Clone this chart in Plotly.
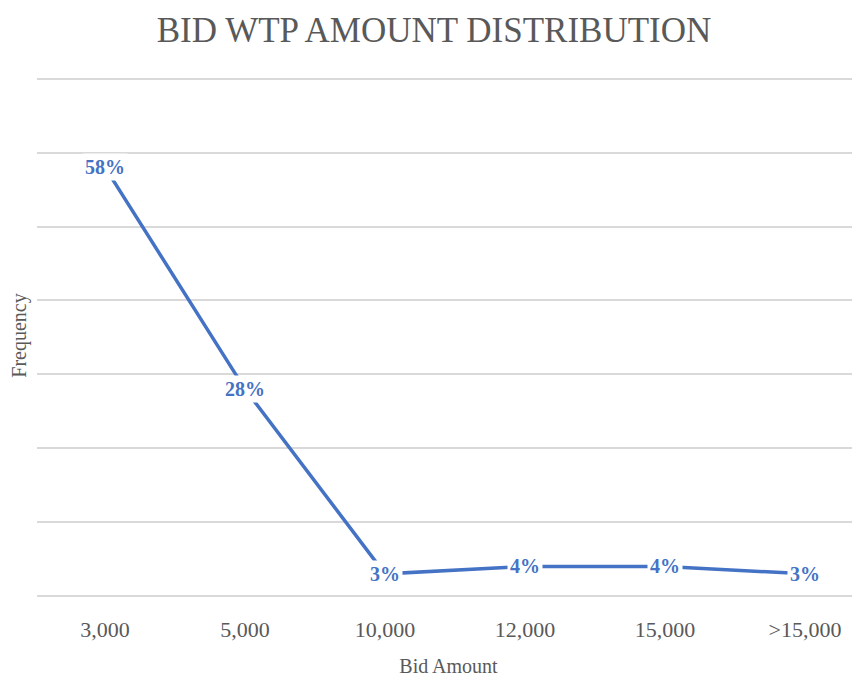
import plotly.graph_objects as go

categories = ["3,000", "5,000", "10,000", "12,000", "15,000", ">15,000"]
frequency = [0.58, 0.28, 0.03, 0.04, 0.04, 0.03]
labels = ["58%", "28%", "3%", "4%", "4%", "3%"]

BLUE = "#4472C4"
GREY = "#595959"
FONT = "Palatino Linotype, Book Antiqua, Palatino, Liberation Serif, serif"

x_idx = list(range(len(categories)))

W, H = 852, 669

fig = go.Figure()
fig.add_trace(go.Scatter(
    x=x_idx, y=frequency, mode="lines",
    line=dict(color=BLUE, width=3.5),
    hoverinfo="skip", showlegend=False,
))

for xi, yv, lab in zip(x_idx, frequency, labels):
    fig.add_annotation(
        x=xi, y=yv, xref="x", yref="y", text="<b>%s</b>" % lab,
        showarrow=False, bgcolor="white", borderpad=2,
        font=dict(family=FONT, size=20, color=BLUE),
        xanchor="center", yanchor="middle",
    )

fig.update_layout(
    width=W, height=H,
    margin=dict(l=29, r=0, t=67, b=81, autoexpand=False),
    paper_bgcolor="white", plot_bgcolor="white",
    title=dict(text="BID WTP AMOUNT DISTRIBUTION", x=0.5, xanchor="center",
               y=1 - 22 / H, yanchor="middle",
               font=dict(family=FONT, size=35, color=GREY)),
    font=dict(family=FONT, color=GREY),
)

fig.update_xaxes(
    tickmode="array", tickvals=x_idx, ticktext=categories, automargin=False,
    range=[-0.486, 5.393], showgrid=False, zeroline=False,
    showline=False, ticks="", ticklabelstandoff=18,
    tickfont=dict(family=FONT, size=22, color=GREY),
    title=dict(text="Bid Amount", font=dict(family=FONT, size=20, color=GREY), standoff=21),
)
fig.update_yaxes(
    range=[0, 0.705], tickvals=[0.1, 0.2, 0.3, 0.4, 0.5, 0.6, 0.7],
    showticklabels=False, showgrid=True, automargin=False,
    gridcolor="#d9d9d9", gridwidth=1.5, zeroline=True, zerolinecolor="#d9d9d9",
    zerolinewidth=1.5, ticks="",
    title=dict(text="Frequency", font=dict(family=FONT, size=20, color=GREY), standoff=11),
)

fig.write_html("out.html")
